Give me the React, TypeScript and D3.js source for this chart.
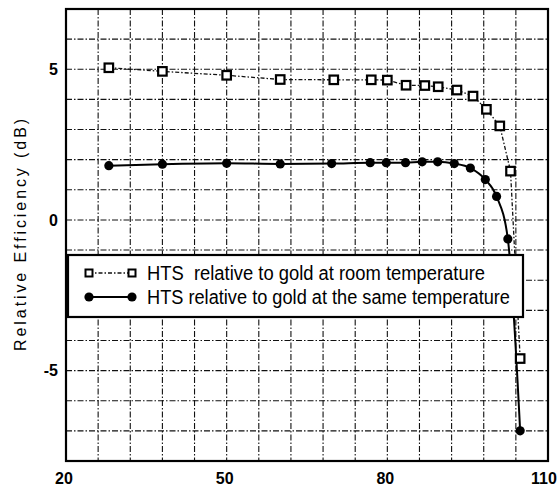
import { useEffect, useRef } from "react";
import * as d3 from "d3";

// HTS relative to gold at room temperature (open squares)
const tempRoom = [28, 38, 50, 60, 70, 77, 80, 83.5, 87, 89.5, 93, 96, 98.5, 101, 103, 104.8];
const effRoom = [5.05, 4.93, 4.8, 4.66, 4.65, 4.65, 4.64, 4.47, 4.46, 4.42, 4.31, 4.11, 3.67, 3.12, 1.62, -4.6];

// HTS relative to gold at the same temperature (filled circles)
const tempSame = [28, 38, 50, 60, 69.6, 76.8, 79.8, 83.4, 86.5, 89.4, 92.5, 95.5, 98.3, 100.4, 102.5, 104.8];
const effSame = [1.8, 1.85, 1.88, 1.86, 1.87, 1.9, 1.9, 1.9, 1.93, 1.93, 1.87, 1.72, 1.34, 0.78, -0.63, -7.0];

const xTicks = [20, 50, 80, 110];
const yTicks = [-5, 0, 5];
const xGrid = d3.range(26, 110, 6);
const yGrid = d3.range(-7, 7, 1);

const legendLabels = [
  "HTS  relative to gold at room temperature",
  "HTS relative to gold at the same temperature",
];

const W = 557;
const H = 494;
const M = { top: 9, right: 9, bottom: 33, left: 66 };
const FONT = "'Liberation Sans', Arial, sans-serif";

export default function App() {
  const ref = useRef<SVGSVGElement>(null);

  useEffect(() => {
    if (!ref.current) return;
    const root = d3.select(ref.current);
    root.selectAll("*").remove();

    const x = d3.scaleLinear().domain([20, 110]).range([M.left, W - M.right]);
    const y = d3.scaleLinear().domain([-8, 7]).range([H - M.bottom, M.top]);

    root.append("rect").attr("width", W).attr("height", H).attr("fill", "#fff");

    const grid = root
      .append("g")
      .attr("stroke", "#111")
      .attr("stroke-width", 1.1)
      .attr("stroke-dasharray", "6 2 1.5 2");
    xGrid.forEach((v) => {
      grid.append("line").attr("x1", x(v)).attr("x2", x(v)).attr("y1", y(7)).attr("y2", y(-8));
    });
    yGrid.forEach((v) => {
      grid.append("line").attr("x1", x(20)).attr("x2", x(110)).attr("y1", y(v)).attr("y2", y(v));
    });

    root
      .append("rect")
      .attr("x", x(20))
      .attr("y", y(7))
      .attr("width", x(110) - x(20))
      .attr("height", y(-8) - y(7))
      .attr("fill", "none")
      .attr("stroke", "#000")
      .attr("stroke-width", 2.2);

    // series lines
    const roomPts = tempRoom.map((t, i) => [t, effRoom[i]] as [number, number]);
    const samePts = tempSame.map((t, i) => [t, effSame[i]] as [number, number]);

    const lineLin = d3.line<[number, number]>().x((d) => x(d[0])).y((d) => y(d[1]));
    const lineSmooth = d3
      .line<[number, number]>()
      .x((d) => x(d[0]))
      .y((d) => y(d[1]))
      .curve(d3.curveMonotoneX);

    root
      .append("path")
      .attr("d", lineLin(roomPts))
      .attr("fill", "none")
      .attr("stroke", "#111")
      .attr("stroke-width", 1.3)
      .attr("stroke-dasharray", "4 2 1.5 2");

    root
      .append("path")
      .attr("d", lineSmooth(samePts))
      .attr("fill", "none")
      .attr("stroke", "#000")
      .attr("stroke-width", 2);

    const sq = 8.5;
    root
      .append("g")
      .selectAll("rect")
      .data(roomPts)
      .join("rect")
      .attr("x", (d) => x(d[0]) - sq / 2)
      .attr("y", (d) => y(d[1]) - sq / 2)
      .attr("width", sq)
      .attr("height", sq)
      .attr("fill", "#fff")
      .attr("stroke", "#000")
      .attr("stroke-width", 2.2);

    root
      .append("g")
      .selectAll("circle")
      .data(samePts)
      .join("circle")
      .attr("cx", (d) => x(d[0]))
      .attr("cy", (d) => y(d[1]))
      .attr("r", 4.6)
      .attr("fill", "#000");

    // tick labels
    root
      .append("g")
      .selectAll("text")
      .data(xTicks)
      .join("text")
      .attr("x", (d) => Math.min(x(d) - 2, W - 13))
      .attr("y", H - 10)
      .attr("text-anchor", "middle")
      .attr("font-family", FONT)
      .attr("font-weight", "bold")
      .attr("font-size", 16)
      .text((d) => d);

    root
      .append("g")
      .selectAll("text")
      .data(yTicks)
      .join("text")
      .attr("x", x(20) - 8)
      .attr("y", (d) => y(d))
      .attr("dy", "0.36em")
      .attr("text-anchor", "end")
      .attr("font-family", FONT)
      .attr("font-weight", "bold")
      .attr("font-size", 16)
      .text((d) => d);

    root
      .append("text")
      .attr("transform", `translate(26,${y(0) + 15}) rotate(-90)`)
      .attr("text-anchor", "middle")
      .attr("font-family", FONT)
      .attr("font-size", 16)
      .attr("textLength", 232)
      .attr("lengthAdjust", "spacing")
      .text("Relative Efficiency (dB)");

    // legend
    const lg = root.append("g");
    const lx0 = x(20) + 2;
    const lx1 = 523;
    const ly0 = 255;
    const ly1 = 317;
    lg.append("rect")
      .attr("x", lx0)
      .attr("y", ly0)
      .attr("width", lx1 - lx0)
      .attr("height", ly1 - ly0)
      .attr("fill", "#fff")
      .attr("stroke", "#000")
      .attr("stroke-width", 2.2);

    const rowY = [273, 297];
    const symA = 89;
    const symB = 132;
    const textX = 147;
    const textLen = [338, 363];

    lg.append("line")
      .attr("x1", symA)
      .attr("x2", symB)
      .attr("y1", rowY[0])
      .attr("y2", rowY[0])
      .attr("stroke", "#111")
      .attr("stroke-width", 1.3)
      .attr("stroke-dasharray", "4 2 1.5 2");
    [symA, symB].forEach((sx) => {
      lg.append("rect")
        .attr("x", sx - 3.5)
        .attr("y", rowY[0] - 3.5)
        .attr("width", 7)
        .attr("height", 7)
        .attr("fill", "#fff")
        .attr("stroke", "#000")
        .attr("stroke-width", 2);
    });

    lg.append("line")
      .attr("x1", symA)
      .attr("x2", symB)
      .attr("y1", rowY[1])
      .attr("y2", rowY[1])
      .attr("stroke", "#000")
      .attr("stroke-width", 2);
    [symA, symB].forEach((sx) => {
      lg.append("circle").attr("cx", sx).attr("cy", rowY[1]).attr("r", 4.6).attr("fill", "#000");
    });

    legendLabels.forEach((label, i) => {
      lg.append("text")
        .attr("x", textX)
        .attr("y", rowY[i])
        .attr("dy", "0.36em")
        .attr("font-family", FONT)
        .attr("font-size", 20)
        .attr("textLength", textLen[i])
        .attr("lengthAdjust", "spacingAndGlyphs")
        .style("white-space", "pre")
        .text(label);
    });
  }, []);

  return (
    <svg
      ref={ref}
      width={W}
      height={H}
      viewBox={`0 0 ${W} ${H}`}
      style={{ position: "fixed", left: 0, top: 0, display: "block" }}
    />
  );
}
